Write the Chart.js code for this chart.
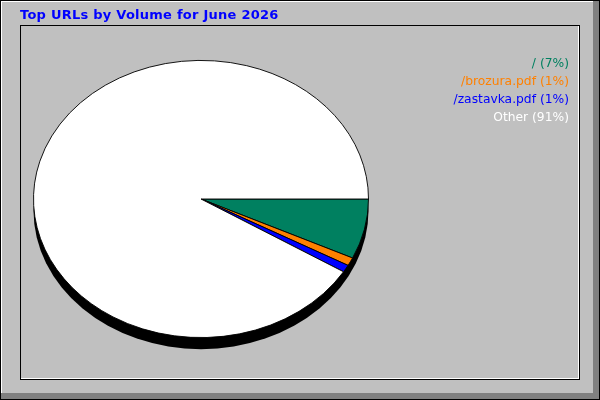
<!DOCTYPE html>
<html>
<head>
<meta charset="utf-8">
<script src="https://cdn.jsdelivr.net/npm/chart.js@4"></script>
<style>
  html, body { margin: 0; padding: 0; background: #c0c0c0; }
  canvas { display: block; }
</style>
</head>
<body>
<canvas id="chart" width="600" height="400"></canvas>
<script>
const title = 'Top URLs by Volume for June 2026';
const urls = ['/', '/brozura.pdf', '/zastavka.pdf', 'Other'];
const volumes = [7.0, 0.95, 0.85, 91.2];
const sliceColors = ['#008060', '#ff8000', '#0000ff', '#ffffff'];
const textColors = ['#008060', '#ff8000', '#0000ff', '#ffffff'];

const chartElement = document.getElementById('chart');

// squash the round pie into an ellipse and give it a black rim underneath
const ellipsePlugin = {
    id: 'ellipse',
    beforeDatasetsDraw(chart) {
        const ctx = chart.ctx;
        const arc = chart.getDatasetMeta(0).data[0];
        const cx = arc.x, cy = arc.y, r = arc.outerRadius;
        ctx.save();
        ctx.translate(cx, cy);
        ctx.scale(1, 139 / 168);
        ctx.translate(-cx, -cy);
        ctx.beginPath();
        ctx.arc(cx, cy + 14, r, 0, Math.PI * 2);
        ctx.fillStyle = '#000000';
        ctx.fill();
    },
    afterDatasetsDraw(chart) {
        chart.ctx.restore();
    }
};

const framePlugin = {
    id: 'frame',
    beforeDraw(chart) {
        const ctx = chart.ctx;
        ctx.save();
        ctx.fillStyle = '#c0c0c0';
        ctx.fillRect(0, 0, 600, 400);
        // outer bevel
        ctx.fillStyle = '#808080';
        ctx.fillRect(593, 1, 6, 398);
        ctx.fillRect(1, 393, 598, 6);
        ctx.fillStyle = '#ffffff';
        ctx.fillRect(1, 1, 592, 1);
        ctx.fillRect(1, 1, 1, 392);
        ctx.strokeStyle = '#000000';
        ctx.lineWidth = 1;
        ctx.strokeRect(0.5, 0.5, 599, 399);
        // inner panel
        ctx.strokeRect(20.5, 25.5, 559, 354);
        ctx.strokeStyle = '#ffffff';
        ctx.beginPath();
        ctx.moveTo(578.5, 26);
        ctx.lineTo(578.5, 379);
        ctx.moveTo(21, 378.5);
        ctx.lineTo(579, 378.5);
        ctx.stroke();
        ctx.restore();
    },
    afterDraw(chart) {
        const ctx = chart.ctx;
        ctx.save();
        ctx.font = 'bold 13px "DejaVu Sans"';
        ctx.letterSpacing = '0.25px';
        ctx.fillStyle = '#0000ff';
        ctx.textAlign = 'left';
        ctx.textBaseline = 'alphabetic';
        ctx.fillText(title, 20, 19);
        ctx.letterSpacing = '0px';
        const data = chart.data.datasets[0].data;
        const total = data.reduce((a, b) => a + b, 0);
        ctx.font = '12.3px "DejaVu Sans"';
        ctx.textAlign = 'right';
        chart.data.labels.forEach((label, i) => {
            const pct = Math.round(data[i] / total * 100);
            ctx.fillStyle = textColors[i];
            ctx.fillText(label + ' (' + pct + '%)', 569, 67 + i * 18);
        });
        ctx.restore();
    }
};

new Chart(chartElement, {
    type: 'pie',
    data: {
        labels: urls,
        datasets: [{
            data: volumes,
            backgroundColor: sliceColors,
            borderColor: '#000000',
            borderWidth: 1,
            clip: false,
            hoverOffset: 0
        }]
    },
    options: {
        responsive: false,
        animation: false,
        events: [],
        rotation: 90,
        layout: {
            padding: { left: 33, right: 231, top: 31, bottom: 33 }
        },
        plugins: {
            legend: { display: false },
            tooltip: { enabled: false }
        }
    },
    plugins: [framePlugin, ellipsePlugin]
});
</script>
</body>
</html>
